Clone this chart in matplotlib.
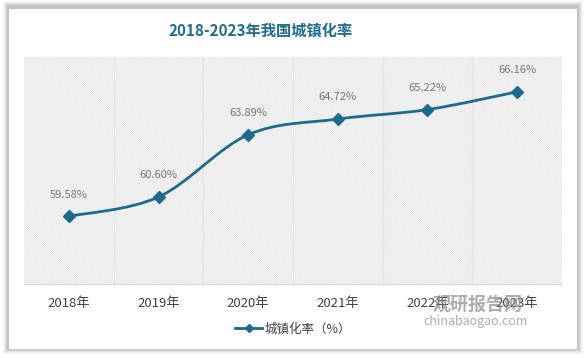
import numpy as np
import matplotlib
matplotlib.use("Agg")
import matplotlib.pyplot as plt
from matplotlib.path import Path
from matplotlib.patches import PathPatch, Rectangle
from matplotlib.lines import Line2D

plt.rcParams['font.family'] = ['Noto Sans CJK SC', 'DejaVu Sans']
plt.rcParams['hatch.color'] = '#d0d0d0'
plt.rcParams['hatch.linewidth'] = 0.35

# 数据
years = ['2018年', '2019年', '2020年', '2021年', '2022年', '2023年']
rates = [59.58, 60.60, 63.89, 64.72, 65.22, 66.16]
rate_labels = ['59.58%', '60.60%', '63.89%', '64.72%', '65.22%', '66.16%']
title = '2018-2023年我国城镇化率'
legend_label = '城镇化率（%）'

line_color = '#1c6b8c'
title_color = '#1f6e8c'

W, H = 585, 358
fig = plt.figure(figsize=(W / 100, H / 100), dpi=100)
fig.patch.set_facecolor('white')

# 卡片阴影 + 白色卡片
for i, a in enumerate([0.03, 0.04, 0.05, 0.06, 0.07]):
    d = 6 - i
    fig.patches.append(Rectangle(((9 - d) / W, (H - 350 - d + 2) / H), (568 + 2 * d) / W, (341 + 2 * d) / H,
                                 transform=fig.transFigure, facecolor='black', alpha=a,
                                 edgecolor='none', zorder=0))
fig.patches.append(Rectangle((9 / W, (H - 349) / H), 568 / W, 340 / H, transform=fig.transFigure,
                             facecolor='white', edgecolor='none', zorder=1))

ax = fig.add_axes([24 / W, (H - 284) / H, (562 - 24) / W, (284 - 57) / H])
ax.set_zorder(2)
ax.patch.set_facecolor('white')
ax.add_patch(Rectangle((0, 0), 1, 1, transform=ax.transAxes, facecolor='none',
                       hatch='\\' * 16, edgecolor='#d0d0d0', linewidth=0, zorder=0))

x = np.arange(len(years))
ax.set_xlim(-0.5, len(years) - 0.5)
ax.set_ylim(56, 68)

for b in np.arange(0.5, len(years) - 0.5, 1):
    ax.axvline(b, color='#e3e3e3', linewidth=0.8, zorder=1)

# 平滑曲线（Catmull-Rom 转 Bezier）
pts = np.column_stack([x, rates]).astype(float)
verts = [tuple(pts[0])]
codes = [Path.MOVETO]
n = len(pts)
for i in range(n - 1):
    p0 = pts[max(i - 1, 0)]
    p1 = pts[i]
    p2 = pts[i + 1]
    p3 = pts[min(i + 2, n - 1)]
    c1 = p1 + (p2 - p0) / 6
    c2 = p2 - (p3 - p1) / 6
    verts += [tuple(c1), tuple(c2), tuple(p2)]
    codes += [Path.CURVE4] * 3
ax.add_patch(PathPatch(Path(verts, codes), facecolor='none', edgecolor=line_color,
                       linewidth=2, zorder=3))
ax.plot(x, rates, linestyle='none', marker='D', markersize=6, color=line_color, zorder=4)

for xi, yi, lab in zip(x, rates, rate_labels):
    ax.annotate(lab, (xi, yi), xytext=(0, 12), textcoords='offset points', ha='center',
                va='bottom', fontsize=8, color='#767676', zorder=5)

for s in ['top', 'right', 'left']:
    ax.spines[s].set_visible(False)
ax.spines['bottom'].set_color('#d9d9d9')
ax.spines['bottom'].set_linewidth(1)
ax.set_yticks([])
ax.set_xticks(x)
ax.set_xticklabels(years, fontsize=9.5, color='#404040')
ax.tick_params(axis='x', length=0, pad=9)

fig.text(261 / W, 1 - 31 / H, title, ha='center', va='center', fontsize=11,
         fontweight='bold', color=title_color, zorder=3)

handle = Line2D([], [], color=line_color, linewidth=2, marker='D', markersize=4)
fig.legend([handle], [legend_label], loc='center', bbox_to_anchor=(293 / W, 1 - 329 / H),
           frameon=False, fontsize=9, handlelength=2.2, handletextpad=0.2,
           labelcolor='#404040')

# 水印
fig.text(478 / W, 1 - 304 / H, '观研报告网', ha='center', va='center', fontsize=13,
         fontweight='bold', color='#8a8a8a', alpha=0.7, zorder=6)
fig.text(476 / W, 1 - 322 / H, 'chinabaogao.com', ha='center', va='center', fontsize=9,
         color='#8a8a8a', alpha=0.7, zorder=6)

fig.savefig('out.png', dpi=100)
